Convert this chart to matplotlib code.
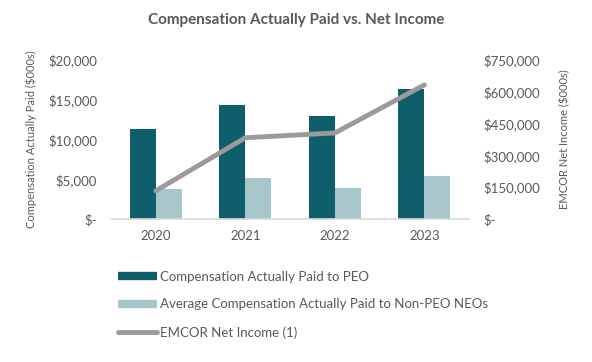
import matplotlib.pyplot as plt
from matplotlib.lines import Line2D

plt.rcParams['font.family'] = ['Lato', 'DejaVu Sans']

years = ["2020", "2021", "2022", "2023"]
peo_cap = [11300, 14350, 13000, 16350]
neo_cap = [3800, 5200, 3950, 5450]
net_income = [132943, 383532, 406122, 632994]

dark = "#0F5E6B"
light = "#A7C6CC"
grey_line = "#9A9A9A"
txt = "#595959"

fig = plt.figure(figsize=(5.92, 3.62), dpi=100)
ax = fig.add_axes([0.1875, 0.395, 0.605, 0.439])
x = list(range(len(years)))
w = 0.29
ax.bar([i - w / 2 for i in x], peo_cap, width=w, color=dark, zorder=2)
ax.bar([i + w / 2 for i in x], neo_cap, width=w, color=light, zorder=2)
ax.set_xlim(-0.5, 3.5)
ax.set_ylim(0, 20000)
ax.set_yticks([0, 5000, 10000, 15000, 20000])
ax.set_yticklabels(["$-" if v == 0 else f"${v:,}" for v in ax.get_yticks().astype(int)])
ax.set_xticks(x)
ax.set_xticklabels(years)
for s in ["top", "right", "left"]:
    ax.spines[s].set_visible(False)
ax.spines["bottom"].set_color("#D9D9D9")
ax.spines["bottom"].set_linewidth(1.2)
ax.tick_params(axis="both", length=0, colors=txt, labelsize=9.5)
ax.tick_params(axis="y", pad=10)
ax.tick_params(axis="x", pad=8)
ax.set_ylabel("Compensation Actually Paid ($000s)", color=txt, fontsize=8, labelpad=8)

ax2 = ax.twinx()
ax2.plot(x, net_income, color=grey_line, lw=3.5, solid_capstyle="round", zorder=3)
ax2.set_ylim(0, 750000)
ax2.set_yticks([0, 150000, 300000, 450000, 600000, 750000])
ax2.set_yticklabels(["$-" if v == 0 else f"${v:,}" for v in ax2.get_yticks().astype(int)])
for s in ["top", "right", "left", "bottom"]:
    ax2.spines[s].set_visible(False)
ax2.tick_params(axis="y", length=0, colors=txt, labelsize=9.5, pad=10)
ax2.set_ylabel("EMCOR Net Income ($000s)", color=txt, fontsize=8, labelpad=14)

fig.suptitle("Compensation Actually Paid vs. Net Income", x=0.5, y=0.965,
             fontsize=11, fontweight="bold", color=txt)

handles = [
    Line2D([], [], color=dark, lw=6, solid_capstyle="butt"),
    Line2D([], [], color=light, lw=6, solid_capstyle="butt"),
    Line2D([], [], color=grey_line, lw=3.5, solid_capstyle="round"),
]
labels = ["Compensation Actually Paid to PEO",
          "Average Compensation Actually Paid to Non-PEO NEOs",
          "EMCOR Net Income (1)"]
leg = fig.legend(handles, labels, loc="upper left", bbox_to_anchor=(0.19, 0.267),
                 frameon=False, fontsize=9.5, handlelength=3.0, handletextpad=0.2,
                 labelspacing=1.2, borderaxespad=0)
for t in leg.get_texts():
    t.set_color(txt)

fig.savefig("out.png", dpi=100)
